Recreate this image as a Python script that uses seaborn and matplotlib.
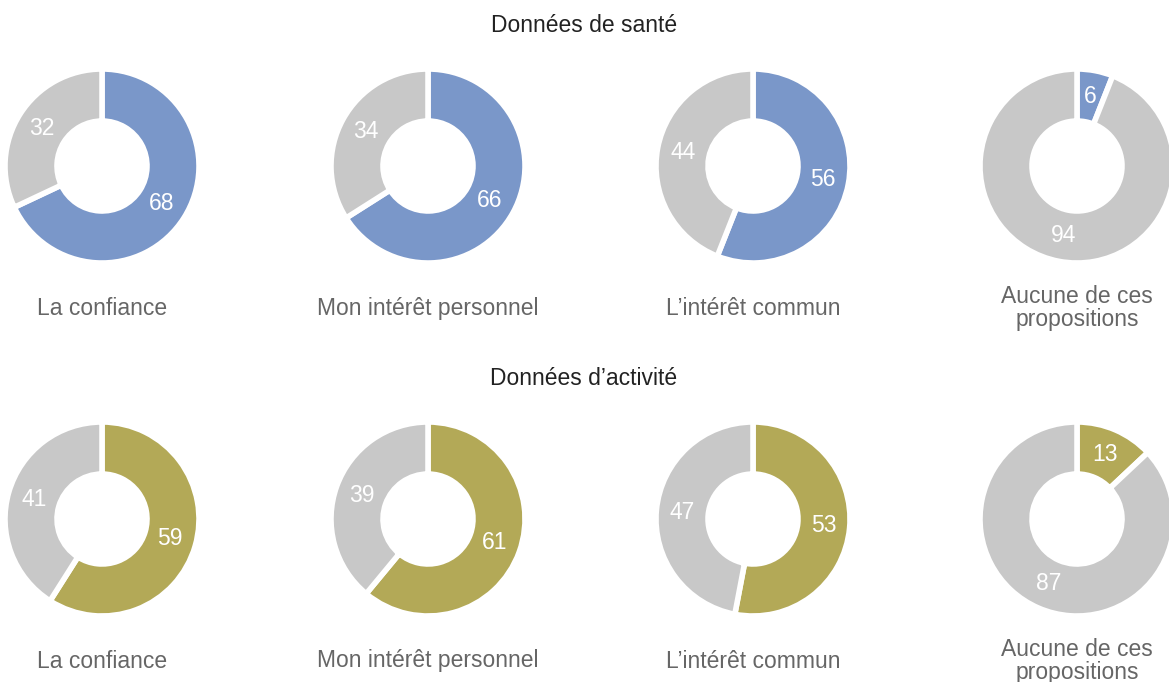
import matplotlib
matplotlib.use("Agg")
import matplotlib.pyplot as plt
import seaborn as sns

sns.set_theme(style="white")
plt.rcParams['font.family'] = ['Liberation Sans', 'DejaVu Sans']

categories = ["La confiance", "Mon intérêt personnel", "L’intérêt commun", "Aucune de ces\npropositions"]
sante_values = [68, 66, 56, 6]
activite_values = [59, 61, 53, 13]
row_titles = ["Données de santé", "Données d’activité"]

blue = "#7a97c9"
olive = "#b3a957"
gray = "#c8c8c8"

W, H = 1169, 682
fig = plt.figure(figsize=(W / 100, H / 100), dpi=100)

centers_x = [102, 428, 753, 1077]
rows = [
    dict(values=sante_values, color=blue, cy=166, title_y=26, label_y=308),
    dict(values=activite_values, color=olive, cy=519, title_y=379, label_y=661),
]

box = 200
for r, row in enumerate(rows):
    fig.text(584 / W, 1 - row["title_y"] / H, row_titles[r], ha="center", va="center",
             fontsize=16.5, color="#222222")
    for i, (cat, v) in enumerate(zip(categories, row["values"])):
        cx, cy = centers_x[i], row["cy"]
        ax = fig.add_axes([(cx - box / 2) / W, 1 - (cy + box / 2) / H, box / W, box / H])
        wedges, texts, autotexts = ax.pie(
            [v, 100 - v], colors=[row["color"], gray], startangle=90, counterclock=False,
            radius=0.97, autopct=lambda p: f"{p:.0f}", pctdistance=0.73,
            wedgeprops=dict(width=0.52, edgecolor="white", linewidth=4),
            textprops=dict(color="white", fontsize=16.5))
        ax.set_xlim(-1, 1)
        ax.set_ylim(-1, 1)
        ax.set_aspect("equal")
        ax.axis("off")
        ly = row["label_y"]
        if "\n" in cat:
            ly = ly - 0
        fig.text(cx / W, 1 - ly / H, cat, ha="center", va="center", fontsize=16.5,
                 color="#666666", linespacing=1.0)

fig.savefig("out.png", dpi=100)
